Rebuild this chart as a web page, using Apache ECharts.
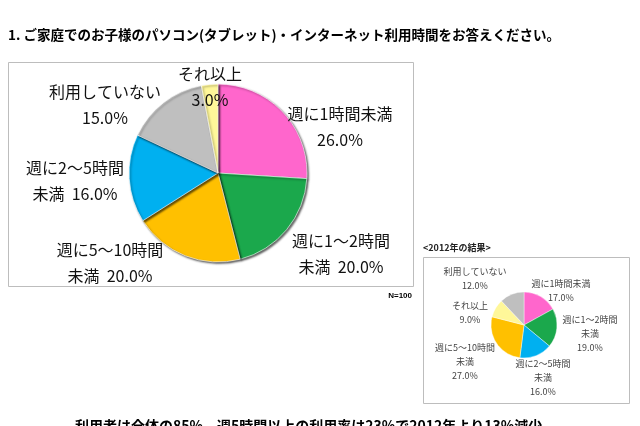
<!DOCTYPE html>
<html><head><meta charset="utf-8">
<script src="https://cdn.jsdelivr.net/npm/echarts@6/dist/echarts.min.js"></script>
<style>html,body{margin:0;padding:0;background:#fff}#c{width:640px;height:426px}</style>
</head><body><div id="c"></div>
<script>
const mainCats = ['週に1時間未満','週に1〜2時間\n未満','週に5〜10時間\n未満','週に2〜5時間\n未満','利用していない','それ以上'];
const mainVals = [26.0, 20.0, 20.0, 16.0, 15.0, 3.0];
const mainColors = ['#FF66CC','#1BA84C','#FFC000','#00B0F0','#BFBFBF','#FFF799'];
const mainLabelPos = [[340,127],[341,254],[110,263],[75,181],[105,105],[210,87]];

const oldCats = ['週に1時間未満','週に1〜2時間\n未満','週に2〜5時間\n未満','週に5〜10時間\n未満','それ以上','利用していない'];
const oldVals = [17.0, 19.0, 16.0, 27.0, 9.0, 12.0];
const oldColors = ['#FF66CC','#1BA84C','#00B0F0','#FFC000','#FFF799','#BFBFBF'];
const oldLabelPos = [[561,291],[590,334],[543,378],[465,362],[470,313],[475,279]];

const chart = echarts.init(document.getElementById('c'));
const FF = '"Noto Sans CJK JP", sans-serif';
function fmt(v){return v.toFixed(1)+'%';}
chart.setOption({
  animation:false,
  backgroundColor:'#fff',
  graphic:[
    {type:'rect',shape:{x:8.5,y:62.5,width:405,height:224},style:{fill:'none',stroke:'#BDBDBD',lineWidth:1},z:0},
    {type:'rect',shape:{x:423.5,y:257.5,width:206,height:146},style:{fill:'none',stroke:'#BDBDBD',lineWidth:1},z:0},
    {type:'text',left:8,top:28,style:{text:'1. ご家庭でのお子様のパソコン(タブレット)・インターネット利用時間をお答えください。',font:'bold 13.5px '+FF,fill:'#000'}},
    {type:'text',right:228,top:292,style:{text:'N=100',font:'bold 8px sans-serif',fill:'#000'}},
    {type:'text',left:423,top:243,style:{text:'<2012年の結果>',font:'bold 9px '+FF,fill:'#222'}},
    {type:'text',left:75,top:419,style:{text:'利用者は全体の85%、週5時間以上の利用率は23%で2012年より13%減少',font:'bold 14px '+FF,fill:'#000'}}
  ],
  series:[
    {
      type:'pie', center:[218,173], radius:[0,89], startAngle:90, clockwise:true,
      data: mainCats.map((n,i)=>({name:n,value:mainVals[i],itemStyle:{color:mainColors[i]}})),
      itemStyle:{borderColor:'#fff',borderWidth:0.6,shadowBlur:2,shadowColor:'rgba(0,0,0,0.6)',shadowOffsetX:1.5,shadowOffsetY:1.5},
      label:{show:true,position:'outside',fontFamily:FF,fontSize:16,color:'#111',lineHeight:26,align:'center',overflow:'none',
        formatter:p=>p.name.includes('\n') ? p.name+'  '+fmt(p.value) : p.name+'\n'+fmt(p.value)},
      labelLine:{show:false},
      labelLayout:p=>({x:mainLabelPos[p.dataIndex][0],y:mainLabelPos[p.dataIndex][1],align:'center',verticalAlign:'middle'})
    },
    {
      type:'pie', center:[524,325], radius:[0,33], startAngle:90, clockwise:true,
      data: oldCats.map((n,i)=>({name:n,value:oldVals[i],itemStyle:{color:oldColors[i]}})),
      itemStyle:{borderColor:'#fff',borderWidth:0.4},
      label:{show:true,position:'outside',fontFamily:FF,fontSize:9,color:'#444',lineHeight:14,align:'center',overflow:'none',
        formatter:p=>p.name+'\n'+fmt(p.value)},
      labelLine:{show:false},
      labelLayout:p=>({x:oldLabelPos[p.dataIndex][0],y:oldLabelPos[p.dataIndex][1],align:'center',verticalAlign:'middle'})
    }
  ]
});
</script></body></html>
